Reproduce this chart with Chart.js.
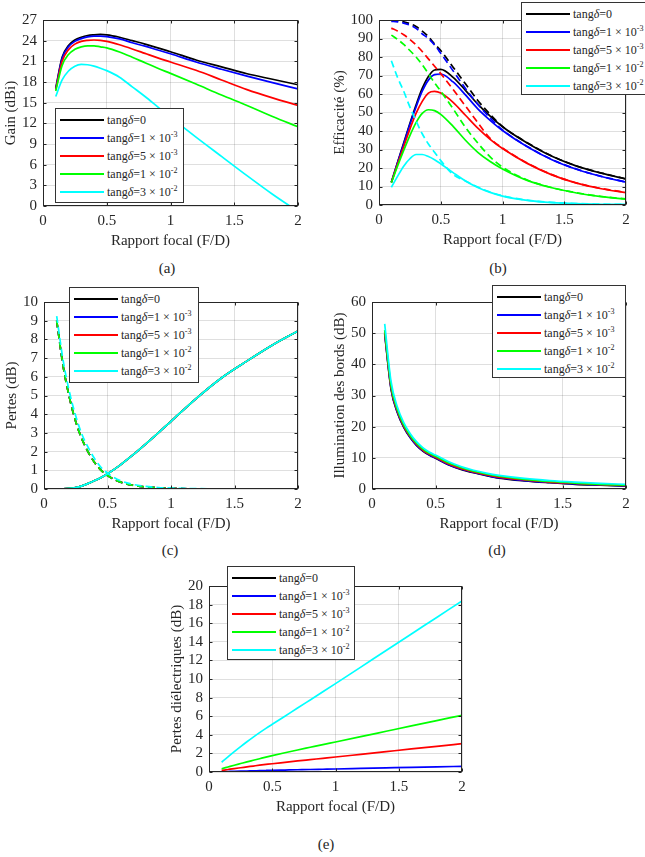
<!DOCTYPE html>
<html>
<head>
<meta charset="utf-8">
<script src="https://cdn.jsdelivr.net/npm/chart.js@4.4.1/dist/chart.umd.min.js"></script>
<style>
    body { margin: 0; background: #fff; width: 645px; height: 857px; overflow: hidden; position: relative;
           font-family: "Liberation Serif", "Times New Roman", serif; color: #262626; }
    canvas { position: absolute; }
    .leg { position: absolute; background: #fff; border: 1px solid #333; box-sizing: border-box; }
    .row { position: absolute; left: 0; right: 0; height: 16px; }
    .ln { position: absolute; top: 7px; height: 2px; }
    .tx { position: absolute; top: 0; font-size: 12px; line-height: 16px; white-space: nowrap;
          font-family: "Liberation Serif", serif; }
    .tx sup { font-size: 8px; vertical-align: 5px; line-height: 0; }
    .cap { position: absolute; font-size: 15px; transform: translate(-50%, -50%); }
</style>
</head>
<body>
<canvas id="chartA"></canvas>
<canvas id="chartB"></canvas>
<canvas id="chartC"></canvas>
<canvas id="chartD"></canvas>
<canvas id="chartE"></canvas>

<div class="cap" style="left:167px;top:268px">(a)</div>
<div class="cap" style="left:498px;top:268px">(b)</div>
<div class="cap" style="left:170px;top:550px">(c)</div>
<div class="cap" style="left:497px;top:550px">(d)</div>
<div class="cap" style="left:326px;top:844px">(e)</div>

<script>
// Rapport focal (F/D)
const fd = [0.1, 0.15, 0.2, 0.25, 0.3, 0.35, 0.4, 0.45, 0.5, 0.6, 0.7, 0.8, 0.9, 1.0, 1.2, 1.4, 1.6, 1.8, 2.0];
const xTicks = [0, 0.5, 1, 1.5, 2];

const seriesNames = [
    'tang<i>δ</i>=0',
    'tang<i>δ</i>=1 × 10<sup>-3</sup>',
    'tang<i>δ</i>=5 × 10<sup>-3</sup>',
    'tang<i>δ</i>=1 × 10<sup>-2</sup>',
    'tang<i>δ</i>=3 × 10<sup>-2</sup>'
];
const seriesColors = ['#000000', '#0000ff', '#ff0000', '#00ff00', '#00ffff'];

// (a) Gain (dBi)
const gainT0  = [17.1, 21.6, 23.3, 24.1, 24.5, 24.75, 24.85, 24.9, 24.85, 24.5, 24.0, 23.5, 22.95, 22.4, 21.2, 20.2, 19.2, 18.4, 17.6];
const gainT1  = [17.0, 21.4, 23.1, 23.9, 24.3, 24.55, 24.65, 24.65, 24.6, 24.25, 23.7, 23.2, 22.65, 22.1, 20.9, 19.85, 18.85, 17.9, 17.0];
const gainT5  = [16.9, 21.0, 22.7, 23.5, 23.9, 24.05, 24.1, 24.05, 23.9, 23.4, 22.8, 22.15, 21.5, 20.9, 19.7, 18.3, 16.9, 15.7, 14.6];
const gainT10 = [16.7, 20.4, 22.0, 22.75, 23.1, 23.25, 23.25, 23.1, 22.95, 22.35, 21.6, 20.8, 20.0, 19.25, 17.7, 16.1, 14.6, 13.0, 11.5];
const gainT30 = [15.9, 18.3, 19.6, 20.3, 20.55, 20.5, 20.3, 20.0, 19.65, 18.7, 17.3, 15.9, 14.4, 12.9, 10.0, 7.2, 4.4, 1.7, -0.8];

// (b) Efficacité (%) - traits pleins
const effT0  = [12.3, 23, 33.5, 44, 54, 63, 69.5, 73, 73.3, 69, 62, 54.5, 48, 42.3, 33.5, 26.3, 21, 17.2, 14];
const effT1  = [12.3, 22.8, 33, 43.5, 53, 61.5, 67.5, 70.5, 70.8, 66.5, 59.5, 52, 45.8, 40.3, 31.5, 24.5, 19.3, 15.4, 12.3];
const effT5  = [12.2, 22, 31.5, 41, 49.5, 56, 60.5, 61.4, 60.5, 55.5, 48.5, 41.5, 35.5, 30.5, 22.5, 16.3, 11.8, 8.8, 6.7];
const effT10 = [12.0, 21, 29.5, 37.5, 44.5, 49.5, 51.5, 51, 49, 42.5, 35, 28.5, 23.5, 19.5, 13.3, 9.3, 6.5, 4.5, 3.2];
const effT30 = [9.6, 15.5, 21, 25, 27.3, 27.3, 26.2, 24.5, 22.3, 17.5, 13, 9.5, 6.8, 4.8, 2.5, 1.3, 0.7, 0.4, 0.3];
// (b) Efficacité (%) - pointillés
const effDashT0  = [99.7, 99.5, 99, 98, 96.5, 94, 91, 87, 83.5, 74.5, 65.5, 56.5, 49, 42.5, 33.7, 26.5, 21.1, 17.3, 14.1];
const effDashT1  = [99.3, 99, 98.3, 97.3, 95.5, 92.5, 90, 86.5, 82, 72.5, 63, 54.5, 47, 40.6, 31.7, 24.6, 19.4, 15.5, 12.4];
const effDashT5  = [95.6, 94, 92, 89.5, 86.5, 83, 79, 75, 71, 62.5, 53.5, 44.5, 36, 30.8, 22.7, 16.4, 11.9, 8.9, 6.8];
const effDashT10 = [91.8, 89.5, 86.8, 83.5, 80, 75.8, 71, 66, 61.5, 52, 42, 33.5, 26, 20.5, 13.5, 9.4, 6.6, 4.6, 3.3];
const effDashT30 = [78, 69, 61.5, 53, 45.5, 38.5, 33, 28.5, 24, 16.5, 13, 9.7, 7, 5, 2.6, 1.4, 0.8, 0.5, 0.3];

// (c) Pertes (dB)
const pertesDash  = [9.0, 6.6, 4.9, 3.6, 2.65, 1.95, 1.4, 1.0, 0.72, 0.38, 0.2, 0.11, 0.06, 0.03, 0.01, 0, 0, 0, 0];
const pertesDashC = [9.25, 6.9, 5.2, 3.9, 2.9, 2.2, 1.6, 1.15, 0.85, 0.45, 0.25, 0.14, 0.08, 0.05, 0.02, 0.01, 0, 0, 0];
const pertesSolid = [0, 0.005, 0.03, 0.08, 0.17, 0.3, 0.45, 0.62, 0.82, 1.28, 1.82, 2.4, 3.0, 3.62, 4.85, 5.95, 6.85, 7.7, 8.45];

// (d) Illumination des bords (dB)
const illumT0  = [49.7, 32, 24.5, 19.8, 16.5, 14.0, 12.2, 10.9, 9.9, 7.8, 6.3, 5.2, 4.3, 3.5, 2.6, 2.0, 1.5, 1.2, 0.9];
const illumT1  = [49.9, 32.2, 24.6, 19.9, 16.6, 14.1, 12.3, 11.0, 10.0, 7.9, 6.4, 5.3, 4.4, 3.6, 2.7, 2.1, 1.6, 1.3, 1.0];
const illumT5  = [50.3, 32.6, 25.0, 20.2, 16.9, 14.4, 12.5, 11.2, 10.2, 8.1, 6.6, 5.5, 4.6, 3.8, 2.9, 2.2, 1.8, 1.4, 1.1];
const illumT10 = [51, 33.2, 25.4, 20.6, 17.2, 14.7, 12.8, 11.5, 10.5, 8.4, 6.9, 5.7, 4.8, 4.1, 3.1, 2.4, 1.9, 1.5, 1.2];
const illumT30 = [53, 34.5, 26.3, 21.3, 17.8, 15.2, 13.3, 11.9, 10.9, 8.8, 7.2, 6.0, 5.1, 4.4, 3.4, 2.7, 2.2, 1.8, 1.5];

// (e) Pertes diélectriques (dB)
const dielT0  = [0, 0, 0, 0, 0, 0, 0, 0, 0, 0, 0, 0, 0, 0, 0, 0, 0, 0, 0];
const dielT1  = [0.035, 0.055, 0.075, 0.093, 0.11, 0.128, 0.145, 0.163, 0.18, 0.21, 0.24, 0.27, 0.295, 0.32, 0.38, 0.44, 0.5, 0.55, 0.61];
const dielT5  = [0.17, 0.27, 0.37, 0.46, 0.55, 0.64, 0.73, 0.81, 0.89, 1.04, 1.19, 1.33, 1.47, 1.61, 1.9, 2.19, 2.48, 2.76, 3.05];
const dielT10 = [0.35, 0.54, 0.73, 0.91, 1.09, 1.26, 1.43, 1.6, 1.76, 2.07, 2.37, 2.66, 2.95, 3.23, 3.8, 4.38, 4.96, 5.53, 6.1];
const dielT30 = [1.05, 1.63, 2.19, 2.73, 3.25, 3.75, 4.23, 4.69, 5.13, 6.0, 6.88, 7.75, 8.62, 9.5, 11.28, 13.06, 14.84, 16.62, 18.4];

const FONT = '"Liberation Serif", "Times New Roman", serif';
const AXIS_COLOR = '#262626';

// cadre complet + graduations vers l'intérieur (style MATLAB)
const boxPlugin = {
    id: 'box',
    afterDraw(chart) {
        const { ctx, chartArea: a, scales } = chart;
        const L = Math.round(a.left) + 0.5, R = Math.round(a.right) - 0.5;
        const T = Math.round(a.top) + 0.5, B = Math.round(a.bottom) - 0.5;
        ctx.save();
        ctx.strokeStyle = AXIS_COLOR;
        ctx.lineWidth = 1;
        ctx.beginPath();
        scales.x.ticks.forEach(t => {
            const px = Math.round(scales.x.getPixelForValue(t.value)) + 0.5;
            ctx.moveTo(px, B); ctx.lineTo(px, B - 3);
            ctx.moveTo(px, T); ctx.lineTo(px, T + 3);
        });
        scales.y.ticks.forEach(t => {
            const py = Math.round(scales.y.getPixelForValue(t.value)) + 0.5;
            ctx.moveTo(L, py); ctx.lineTo(L + 3, py);
            ctx.moveTo(R, py); ctx.lineTo(R - 3, py);
        });
        ctx.stroke();
        ctx.strokeRect(L, T, R - L, B - T);
        ctx.restore();
    }
};

function makeSeries(values, i, dashed) {
    return {
        data: fd.map((x, k) => ({ x: x, y: values[k] })),
        borderColor: seriesColors[i],
        borderWidth: 1.7,
        borderDash: dashed ? [7, 4] : [],
        pointRadius: 0,
        cubicInterpolationMode: 'monotone',
        fill: false,
        order: seriesColors.length - i
    };
}

function makePanel(id, box, yMin, yMax, yStep, yTitle, yGap, datasets) {
    const yW = 50, padT = 10, padR = 10, xH = 46;
    const cv = document.getElementById(id);
    cv.width = box.r - box.l + yW + padR;
    cv.height = box.b - box.t + padT + xH;
    cv.style.left = (box.l - yW) + 'px';
    cv.style.top = (box.t - padT) + 'px';

    new Chart(cv, {
        type: 'line',
        data: { datasets: datasets },
        plugins: [boxPlugin],
        options: {
            responsive: false,
            animation: false,
            events: [],
            layout: { padding: { top: padT, right: padR, left: 0, bottom: 0 } },
            plugins: { legend: { display: false }, tooltip: { enabled: false } },
            scales: {
                x: {
                    type: 'linear',
                    min: 0, max: 2,
                    afterFit: s => { s.height = xH; },
                    afterBuildTicks: s => { s.ticks = xTicks.map(v => ({ value: v })); },
                    grid: { color: 'rgba(38,38,38,0.15)', drawTicks: false },
                    border: { display: false },
                    ticks: {
                        autoSkip: false, maxRotation: 0, padding: 6,
                        color: AXIS_COLOR, font: { family: FONT, size: 15, weight: 'normal' },
                        callback: v => String(v)
                    },
                    title: {
                        display: true, text: 'Rapport focal (F/D)', color: AXIS_COLOR,
                        font: { family: FONT, size: 15, weight: 'normal' }, padding: { top: 0, bottom: 2 }
                    }
                },
                y: {
                    min: yMin, max: yMax,
                    afterFit: s => { s.width = yW; },
                    grid: { color: 'rgba(38,38,38,0.15)', drawTicks: false },
                    border: { display: false },
                    ticks: {
                        stepSize: yStep, autoSkip: false, padding: 6,
                        color: AXIS_COLOR, font: { family: FONT, size: 15, weight: 'normal' }
                    },
                    title: {
                        display: true, text: yTitle, color: AXIS_COLOR,
                        font: { family: FONT, size: 15, weight: 'normal' },
                        padding: { top: yW - yGap - 9, bottom: 0 }
                    }
                }
            }
        }
    });
}

function makeLegend(l, t, w, h) {
    const div = document.createElement('div');
    div.className = 'leg';
    div.style.cssText = `left:${l}px;top:${t}px;width:${w}px;height:${h}px`;
    seriesNames.forEach((name, i) => {
        const row = document.createElement('div');
        row.className = 'row';
        row.style.top = (2.5 + i * 18.2) + 'px';
        row.innerHTML = `<span class="ln" style="left:4px;width:44px;background:${seriesColors[i]}"></span>` +
                        `<span class="tx" style="left:51px">${name}</span>`;
        div.appendChild(row);
    });
    document.body.appendChild(div);
}

// (a)
makePanel('chartA', { l: 43, r: 298, t: 15, b: 206 }, 0, 27, 3, 'Gain (dBi)', 32,
    [gainT0, gainT1, gainT5, gainT10, gainT30].map((v, i) => makeSeries(v, i, false)));

// (b)
makePanel('chartB', { l: 379, r: 626, t: 15, b: 205 }, 0, 100, 10, 'Efficacité (%)', 39,
    [effT0, effT1, effT5, effT10, effT30].map((v, i) => makeSeries(v, i, false))
        .concat([effDashT0, effDashT1, effDashT5, effDashT10, effDashT30].map((v, i) => makeSeries(v, i, true))));

// (c)
makePanel('chartC', { l: 44, r: 298, t: 297, b: 489 }, 0, 10, 1, 'Pertes (dB)', 32,
    [pertesDash, pertesDash, pertesDash, pertesDash, pertesDashC].map((v, i) => makeSeries(v, i, true))
        .concat([pertesSolid, pertesSolid, pertesSolid, pertesSolid, pertesSolid].map((v, i) => makeSeries(v, i, false))));

// (d)
makePanel('chartD', { l: 372, r: 626, t: 297, b: 489 }, 0, 60, 10, 'Illumination des bords (dB)', 32,
    [illumT0, illumT1, illumT5, illumT10, illumT30].map((v, i) => makeSeries(v, i, false)));

// (e)
makePanel('chartE', { l: 209, r: 462, t: 581, b: 772 }, 0, 20, 2, 'Pertes diélectriques (dB)', 32,
    [dielT0, dielT1, dielT5, dielT10, dielT30].map((v, i) => makeSeries(v, i, false)));

makeLegend(55, 108, 129, 95);
makeLegend(521, 2, 130, 93);
makeLegend(69, 287, 130, 96);
makeLegend(492, 285, 134, 93);
makeLegend(227, 566, 128, 94);
</script>
</body>
</html>
